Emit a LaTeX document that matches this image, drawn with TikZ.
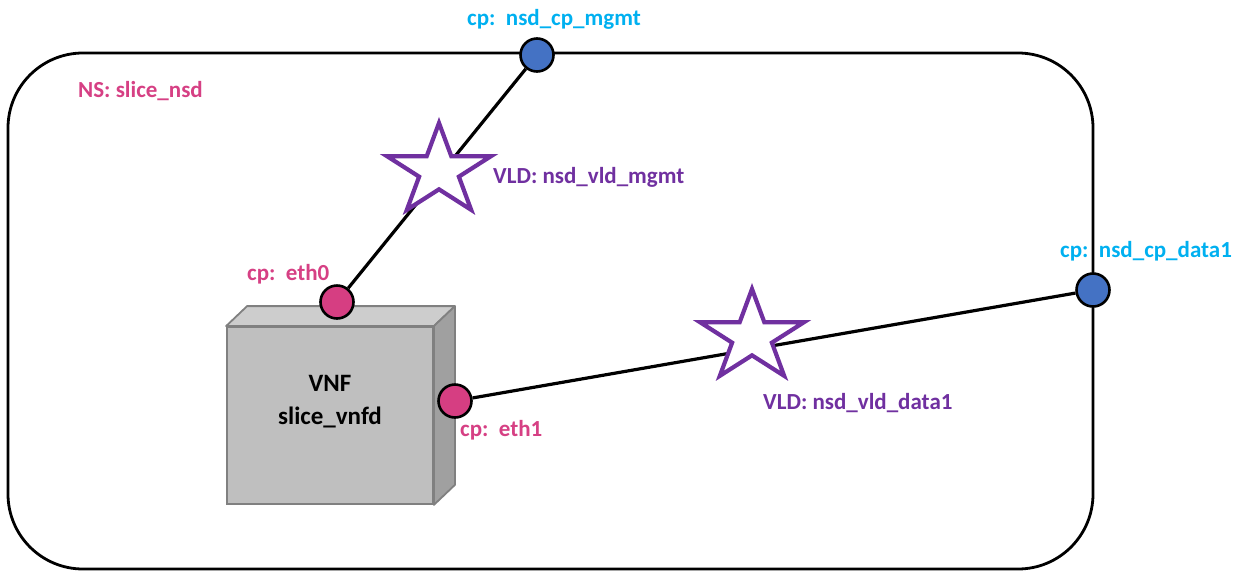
\documentclass[tikz,border=0pt]{standalone}
\usepackage{fontspec}
\setmainfont{Carlito}
\usetikzlibrary{shapes.geometric,backgrounds}

\definecolor{cpblue}{RGB}{68,114,196}
\definecolor{cppink}{RGB}{214,62,130}
\definecolor{txtcyan}{RGB}{0,176,240}
\definecolor{txtpink}{RGB}{214,64,132}
\definecolor{vldpurple}{RGB}{112,48,160}
\definecolor{facefront}{RGB}{191,191,191}
\definecolor{facetop}{RGB}{205,205,205}
\definecolor{faceside}{RGB}{160,160,160}
\definecolor{faceedge}{RGB}{128,128,128}

\begin{document}
\begin{tikzpicture}[x=1pt,y=-1pt,
  nsframe/.style={draw=black, line width=2.8pt, rounded corners=75pt,
    minimum width=1085pt, minimum height=516pt, inner sep=0pt},
  cpnode/.style={circle, draw=black, line width=2.6pt, minimum size=33pt, inner sep=0pt},
  cpext/.style={cpnode, fill=cpblue},
  cpint/.style={cpnode, fill=cppink},
  link/.style={draw=black, line width=3.2pt},
  vldstar/.style={star, star points=5, star point ratio=2.618, draw=vldpurple,
    line width=4.2pt, fill=white, minimum size=96pt, inner sep=0pt,
    xscale=1.14, transform shape},
  lbl/.style={font=\fontsize{23}{27}\selectfont\bfseries, inner sep=0pt, anchor=base west},
  vnfbox/.style={draw=faceedge, line width=1.8pt, fill=facefront,
    minimum width=206pt, minimum height=177pt, inner sep=0pt},
  face/.style={draw=faceedge, line width=1.8pt, line join=round}
]
\useasboundingbox (0,0) rectangle (1242,571);

% network service boundary
\node[nsframe] (ns) at (550.5,311) {};

% VNF drawn as a box with top and side faces
\node[vnfbox] (vnf) at (330,415.5) {};
\draw[face, fill=facetop] (vnf.north west) -- ++(21,-20) -- ([shift={(21,-20)}]vnf.north east) -- (vnf.north east) -- cycle;
\draw[face, fill=faceside] (vnf.north east) -- ++(21,-20) -- ([shift={(21,-20)}]vnf.south east) -- (vnf.south east) -- cycle;
\node[font=\fontsize{25}{33}\selectfont\bfseries, align=center] (vnftext) at ([yshift=14pt]vnf.center) {VNF\\slice\_vnfd};

% connection points
\node[cpext] (mgmt) at (537,55) {};
\node[cpext] (data1) at (1093,290) {};
\node[cpint] (eth0) at (337,302) {};
\node[cpint] (eth1) at (455,401) {};

% virtual links
\node[vldstar] (vldmgmt) at (439,171) {};
\node[vldstar] (vlddata) at (752,337) {};
\begin{pgfonlayer}{background}
  \draw[link] (mgmt) -- (eth0);
  \draw[link] (eth1) -- (data1);
\end{pgfonlayer}

% labels
\node[lbl, text=txtcyan] (lmgmt) at (467,25) {cp:\ \ nsd\_cp\_mgmt};
\node[lbl, text=txtpink] (lns) at (78,97) {NS: slice\_nsd};
\node[lbl, text=vldpurple] (lvldmgmt) at (493,183) {VLD: nsd\_vld\_mgmt};
\node[lbl, text=txtpink] (leth0) at (247,280) {cp:\ \ eth0};
\node[lbl, text=txtcyan] (ldata1) at (1060,257) {cp:\ \ nsd\_cp\_data1};
\node[lbl, text=txtpink] (leth1) at (460,436) {cp:\ \ eth1};
\node[lbl, text=vldpurple] (lvlddata) at (763,409) {VLD: nsd\_vld\_data1};
\end{tikzpicture}
\end{document}
